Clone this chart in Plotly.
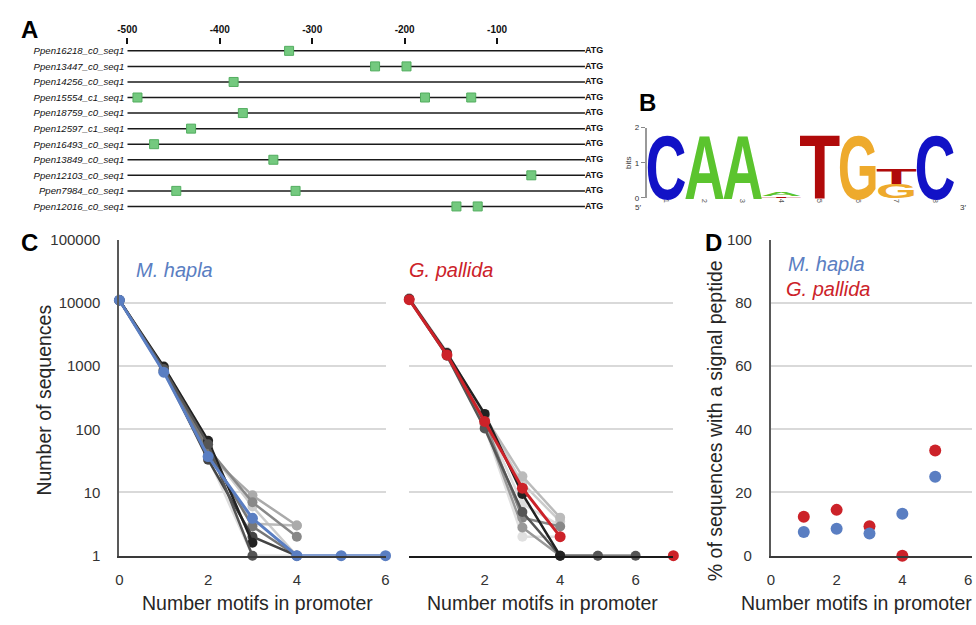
import json
import plotly.graph_objects as go

W, H = 976, 625

# ---------------- Panel A data ----------------
seq_names = ["Ppen16218_c0_seq1", "Ppen13447_c0_seq1", "Ppen14256_c0_seq1", "Ppen15554_c1_seq1",
             "Ppen18759_c0_seq1", "Ppen12597_c1_seq1", "Ppen16493_c0_seq1", "Ppen13849_c0_seq1",
             "Ppen12103_c0_seq1", "Ppen7984_c0_seq1", "Ppen12016_c0_seq1"]
motif_row = [1, 2, 2, 3, 4, 4, 4, 5, 6, 7, 8, 9, 10, 10, 11, 11]
motif_pos = [-325, -232, -198, -385, -489, -178, -128, -375, -431, -471, -342, -63, -447, -318, -144, -121]
promoter_ticks = [-500, -400, -300, -200, -100]
promoter_tick_text = ["-500", "-400", "-300", "-200", "-100"]
promoter_start = -500
promoter_end = -5

# ---------------- Panel B data (sequence logo) ----------------
logo_pos = [1, 2, 3, 4, 4, 5, 6, 7, 7, 8]
logo_letter = ["C", "A", "A", "T", "A", "T", "G", "G", "T", "C"]
logo_bits = [1.88, 1.88, 1.88, 0.04, 0.10, 1.88, 1.88, 0.40, 0.47, 1.88]
logo_colors = {"A": "#5bc42e", "C": "#1212c6", "G": "#eeaa2c", "T": "#b00a0a"}

# ---------------- Panel C data ----------------
motifs_hapla = [0, 1, 2, 3, 4, 5, 6]
hapla_counts = [11000, 800, 37, 3.9, 1, 1, 1]
hapla_controls = [
    ("#dddddd", [11000, 800, 36, 1, 1]),
    ("#cccccc", [11000, 840, 48, 6, 1]),
    ("#bbbbbb", [10950, 820, 42, 3.2, 3]),
    ("#aaaaaa", [11000, 860, 40, 9, 3]),
    ("#888888", [11000, 830, 50, 7, 2]),
    ("#777777", [11000, 850, 45, 2.9, 1]),
    ("#444444", [10900, 870, 33, 2, 1]),
    ("#222222", [11000, 980, 66, 1.6]),
    ("#555555", [11100, 900, 58, 1]),
]
motifs_pallida = [0, 1, 2, 3, 4, 5, 6, 7]
pallida_counts = [11200, 1500, 133, 11.7, 2, None, None, 1]
pallida_controls = [
    ("#e0e0e0", [11200, 1480, 110, 2, 2]),
    ("#dddddd", [11400, 1550, 140, 6.6, 3]),
    ("#cccccc", [11700, 1580, 150, 14, 3.5]),
    ("#bbbbbb", [11800, 1650, 160, 18, 4]),
    ("#888888", [11500, 1520, 130, 4, 2.9]),
    ("#999999", [11600, 1500, 120, 2.8, 1, 1]),
    ("#555555", [11300, 1450, 103, 4.9, 1, 1, 1]),
    ("#222222", [11500, 1600, 175, 9.5, 1]),
]
count_ticks = [1, 10, 100, 1000, 10000, 100000]
count_tick_text = ["1", "10", "100", "1000", "10000", "100000"]

# ---------------- Panel D data ----------------
sp_motifs = [1, 2, 3, 4, 5]
sp_hapla = [7.5, 8.5, 7.0, 13.3, 25.0]
sp_pallida = [12.3, 14.5, 9.3, 0.0, 33.3]

BLUE = "#5a7ec2"
RED = "#cc2229"
FONT = "Liberation Sans"


def fx(px):
    return px / W


def fy(py):
    return 1 - py / H


fig = go.Figure()

# ---- Panel A traces ----
lx, ly = [], []
for i in range(len(seq_names)):
    lx += [promoter_start, promoter_end, None]
    ly += [i + 1, i + 1, None]
fig.add_trace(go.Scatter(x=lx, y=ly, mode="lines", line=dict(color="#1a1a1a", width=1.5),
                         xaxis="x", yaxis="y", hoverinfo="skip"))
fig.add_trace(go.Scatter(x=motif_pos, y=motif_row, mode="markers",
                         marker=dict(symbol="square", size=9, color="#74c97f",
                                     line=dict(color="#52ad5f", width=1)),
                         xaxis="x", yaxis="y", cliponaxis=False))
fig.add_trace(go.Scatter(x=[promoter_end] * len(seq_names), y=list(range(1, len(seq_names) + 1)),
                         mode="text", text=["ATG"] * len(seq_names), textposition="middle right",
                         textfont=dict(family=FONT, size=9, color="#111111", weight="bold"),
                         xaxis="x", yaxis="y", cliponaxis=False))

# ---- Panel C traces ----
for col, vals in hapla_controls:
    fig.add_trace(go.Scatter(x=motifs_hapla[:len(vals)], y=vals, mode="lines+markers",
                             line=dict(color=col, width=2.5), marker=dict(color=col, size=10),
                             xaxis="x3", yaxis="y3", cliponaxis=False))
fig.add_trace(go.Scatter(x=motifs_hapla, y=hapla_counts, mode="lines+markers",
                         line=dict(color=BLUE, width=3), marker=dict(color=BLUE, size=11),
                         xaxis="x3", yaxis="y3", cliponaxis=False))
for col, vals in pallida_controls:
    fig.add_trace(go.Scatter(x=motifs_pallida[:len(vals)], y=vals, mode="lines+markers",
                             line=dict(color=col, width=2.5), marker=dict(color=col, size=10),
                             xaxis="x4", yaxis="y4", cliponaxis=False))
fig.add_trace(go.Scatter(x=motifs_pallida, y=pallida_counts, mode="lines+markers",
                         line=dict(color=RED, width=3), marker=dict(color=RED, size=11),
                         xaxis="x4", yaxis="y4", cliponaxis=False))

# ---- Panel D traces ----
fig.add_trace(go.Scatter(x=sp_motifs, y=sp_pallida, mode="markers",
                         marker=dict(color=RED, size=12), xaxis="x5", yaxis="y5", cliponaxis=False))
fig.add_trace(go.Scatter(x=sp_motifs, y=sp_hapla, mode="markers",
                         marker=dict(color=BLUE, size=12), xaxis="x5", yaxis="y5", cliponaxis=False))

# ---- annotations ----
annotations = []
logo_items = []
stack = {}
LOGO_FS = 40
for k, (p, let, b) in enumerate(zip(logo_pos, logo_letter, logo_bits)):
    base = stack.get(p, 0.0)
    stack[p] = base + b
    annotations.append(dict(x=p, y=base + b / 2, xref="x2", yref="y2", text=let, showarrow=False,
                            xanchor="center", yanchor="middle",
                            font=dict(family=FONT, size=LOGO_FS, color=logo_colors[let], weight="bold")))
    logo_items.append([k, p, base, b, LOGO_FS])


def note(px, py, text, font, angle=0, xanchor="center"):
    return dict(x=fx(px), y=fy(py), xref="paper", yref="paper", text=text, showarrow=False,
                xanchor=xanchor, yanchor="middle", textangle=angle, font=font)


title_font = dict(family=FONT, size=19.5, color="#262626")
panel_font = dict(family=FONT, size=24, color="#000", weight="bold")
annotations += [
    note(20, 21, "A", panel_font),
    note(647, 96, "B", panel_font),
    note(20, 240, "C", panel_font),
    note(714, 240, "D", panel_font),
    note(637, 204, "5′", dict(family=FONT, size=8, color="#333")),
    note(967, 204, "3′", dict(family=FONT, size=8, color="#333")),
    note(35, 402, "Number of sequences", title_font, angle=-90),
    note(251, 611, "Number motifs in promoter", title_font),
    note(540, 611, "Number motifs in promoter", title_font),
    note(740, 611, "Number motifs in promoter", title_font, xanchor="left"),
    note(716, 423, "% of sequences with a signal peptide", title_font, angle=-90),
    note(126, 268, "M. hapla", dict(family=FONT, size=20, color=BLUE, style="italic"), xanchor="left"),
    note(403, 268, "G. pallida", dict(family=FONT, size=20, color=RED, style="italic"), xanchor="left"),
    note(787, 262, "M. hapla", dict(family=FONT, size=20, color=BLUE, style="italic"), xanchor="left"),
    note(785, 288, "G. pallida", dict(family=FONT, size=20, color=RED, style="italic"), xanchor="left"),
]

tick_font = dict(family=FONT, size=15, color="#333333")
GRID = "#d9d9d9"
yC = [fy(562), fy(237)]

fig.update_layout(
    width=W, height=H, margin=dict(l=0, r=0, t=0, b=0),
    paper_bgcolor="white", plot_bgcolor="white", showlegend=False,
    font=dict(family=FONT),
    annotations=annotations,
    # Panel A
    xaxis=dict(domain=[fx(119), fx(588)], range=[-500, 0], side="top", anchor="y",
               tickvals=promoter_ticks, ticktext=promoter_tick_text,
               tickfont=dict(family=FONT, size=10, color="#111", weight="bold"),
               ticks="outside", ticklen=6, tickwidth=2, tickcolor="#111",
               showline=False, showgrid=False, zeroline=False, ticklabelstandoff=1),
    yaxis=dict(domain=[fy(210), fy(37)], range=[11.44, 0.625], anchor="x",
               tickvals=list(range(1, len(seq_names) + 1)), ticktext=seq_names,
               tickfont=dict(family=FONT, size=9.6, color="#111", style="italic"),
               ticks="", showline=False, showgrid=False, zeroline=False, ticklabelstandoff=2),
    # Panel B
    xaxis2=dict(domain=[fx(646), fx(958)], range=[0.5, 8.5], anchor="y2",
                tickvals=list(range(1, 9)), ticktext=[str(i) for i in range(1, 9)], tickangle=90,
                tickfont=dict(family=FONT, size=7.5, color="#555"), ticks="",
                showline=False, showgrid=False, zeroline=False, ticklabelstandoff=0),
    yaxis2=dict(domain=[fy(194), fy(122)], range=[0, 2], anchor="x2",
                tickvals=[0, 1, 2], tickfont=dict(family=FONT, size=8, color="#333"),
                ticks="outside", ticklen=4, tickcolor="#888", showline=True, linecolor="#999",
                linewidth=2, showgrid=False, zeroline=False,
                title=dict(text="bits", font=dict(family=FONT, size=8, color="#333"), standoff=2)),
    # Panel C left
    xaxis3=dict(domain=[fx(111), fx(381)], range=[0, 6], anchor="y3",
                tickvals=[0, 2, 4, 6], tickfont=tick_font, ticks="", ticklabelstandoff=10,
                showline=True, linecolor="#3a3a3a", linewidth=1.5, showgrid=False, zeroline=False),
    yaxis3=dict(domain=yC, type="log", range=[0, 5], anchor="x3",
                tickvals=count_ticks, ticktext=count_tick_text, tickfont=tick_font, ticks="",
                ticklabelstandoff=14, showline=True, linecolor="#595959", linewidth=2,
                showgrid=True, gridcolor=GRID, gridwidth=1.5, zeroline=False),
    # Panel C right
    xaxis4=dict(domain=[fx(405), fx(673)], range=[0, 7], anchor="y4",
                tickvals=[2, 4, 6], tickfont=tick_font, ticks="", ticklabelstandoff=10,
                showline=True, linecolor="#1a1a1a", linewidth=1.5, showgrid=False, zeroline=False),
    yaxis4=dict(domain=yC, type="log", range=[0, 5], anchor="x4",
                tickvals=count_ticks, showticklabels=False, ticks="",
                showline=False, showgrid=True, gridcolor=GRID, gridwidth=1.5, zeroline=False),
    # Panel D
    xaxis5=dict(domain=[fx(772), 1.0], range=[0, 6.12], anchor="y5",
                tickvals=[0, 2, 4, 6], tickfont=tick_font, ticks="", ticklabelstandoff=10,
                showline=True, linecolor="#3a3a3a", linewidth=1.5, showgrid=False, zeroline=False),
    yaxis5=dict(domain=yC, range=[0, 100], anchor="x5",
                tickvals=[0, 20, 40, 60, 80, 100], tickfont=tick_font, ticks="",
                ticklabelstandoff=14, showline=True, linecolor="#595959", linewidth=2,
                showgrid=True, gridcolor=GRID, gridwidth=1.5, zeroline=False),
)

post_script = """
document.body.style.margin = '0';
var gd = document.getElementById('{plot_id}');
var logoItems = %s;
function fitLogo() {
  try {
    var L = gd._fullLayout, xa = L.xaxis2, ya = L.yaxis2;
    logoItems.forEach(function (it) {
      var g = gd.querySelector('.annotation[data-index="' + it[0] + '"]');
      if (!g) return;
      var t = g.querySelector('text.annotation-text');
      if (!t) return;
      t.removeAttribute('transform');
      var bb = t.getBBox();
      var fs = it[4];
      var baseL = bb.y + bb.height * 0.905 / 1.117;
      var topL = baseL - 0.72 * fs;
      var inset = 0.05 * bb.width;
      var lx0 = bb.x + inset, lx1 = bb.x + bb.width - inset;
      var m = t.parentNode.getCTM();
      var X0 = xa._offset + xa.c2p(it[1] - 0.48) - m.e;
      var X1 = xa._offset + xa.c2p(it[1] + 0.48) - m.e;
      var Yb = ya._offset + ya.c2p(it[2]) - m.f;
      var Yt = ya._offset + ya.c2p(it[2] + it[3]) - m.f;
      var sx = (X1 - X0) / (lx1 - lx0), sy = (Yb - Yt) / (baseL - topL);
      var tx = X0 - lx0 * sx, ty = Yt - topL * sy;
      t.setAttribute('transform', 'matrix(' + [sx, 0, 0, sy, tx, ty].join(',') + ')');
    });
  } catch (e) { console.log(e); }
}
fitLogo();
gd.on('plotly_afterplot', fitLogo);
""" % json.dumps(logo_items)

fig.write_html("out.html", post_script=post_script, config={"displayModeBar": False})
